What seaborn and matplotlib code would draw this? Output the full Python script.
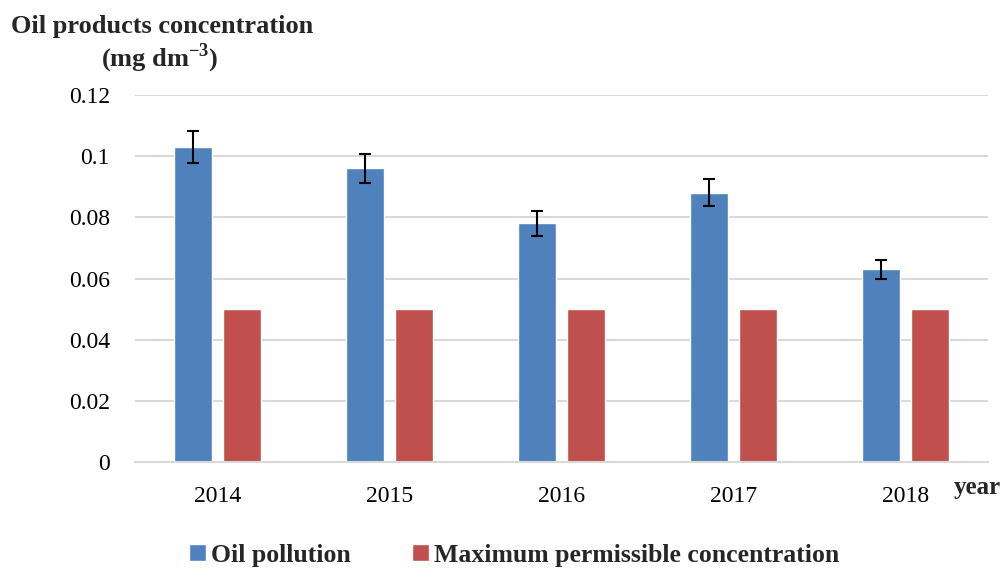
import pandas as pd
import seaborn as sns
import matplotlib.pyplot as plt

years = ['2014', '2015', '2016', '2017', '2018']
oil_pollution = [0.103, 0.096, 0.078, 0.088, 0.063]
oil_error = [0.0052, 0.0048, 0.0040, 0.0044, 0.0031]
max_permissible = [0.05, 0.05, 0.05, 0.05, 0.05]
series_names = ['Oil pollution', 'Maximum permissible concentration']
color_palette = ['#4F81BD', '#C0504D']

sns.set_theme(style='white')
plt.rcParams['font.family'] = ['Liberation Serif', 'DejaVu Serif']
plt.rcParams['mathtext.fontset'] = 'custom'
plt.rcParams['mathtext.rm'] = 'Liberation Serif'
plt.rcParams['mathtext.bf'] = 'Liberation Serif:bold'

df = pd.DataFrame({
    'year': years * 2,
    'value': oil_pollution + max_permissible,
    'series': [series_names[0]] * len(years) + [series_names[1]] * len(years),
})

fig = plt.figure(figsize=(10.06, 5.69), dpi=100)
ax = fig.add_axes([0.134, 0.188, 0.848, 0.645])

sns.barplot(data=df, x='year', y='value', hue='series', palette=color_palette,
            width=0.573, gap=0.225, errorbar=None, saturation=1, ax=ax)

# error bars on the oil pollution bars
oil_bars = ax.containers[0]
xs = [p.get_x() + p.get_width() / 2 for p in oil_bars]
ax.errorbar(xs, oil_pollution, yerr=oil_error, fmt='none', ecolor='black',
            elinewidth=1.5, capsize=4.5, capthick=1.5, zorder=5)

ax.set_ylim(0, 0.12)
ax.set_yticks([0, 0.02, 0.04, 0.06, 0.08, 0.1, 0.12])
ax.set_yticklabels(['0', '0.02', '0.04', '0.06', '0.08', '0.1', '0.12'])
ax.yaxis.grid(True, color='#d9d9d9', linewidth=1.5)
ax.set_axisbelow(True)
for side in ['top', 'right', 'left']:
    ax.spines[side].set_visible(False)
ax.spines['bottom'].set_color('#d9d9d9')
ax.spines['bottom'].set_linewidth(1.5)
ax.tick_params(axis='both', length=0, labelsize=17, colors='black')
ax.tick_params(axis='x', pad=17)
ax.tick_params(axis='y', pad=18)
ax.set_xlabel('')
ax.set_ylabel('')

fig.text(0.161, 0.953, 'Oil products concentration', ha='center', va='center',
         fontsize=19, fontweight='bold')
fig.text(0.159, 0.897, r'(mg dm$^{\mathbf{-3}}$)', ha='center', va='center',
         fontsize=19, fontweight='bold')
fig.text(0.971, 0.143, 'year', ha='center', va='center', fontsize=18, fontweight='bold')

handles, labels = ax.get_legend_handles_labels()
ax.legend(handles, labels, loc='center', bbox_to_anchor=(0.511, 0.024),
          bbox_transform=fig.transFigure, ncol=2, frameon=False,
          prop={'size': 18.5, 'weight': 'bold'}, handlelength=0.65, handleheight=0.65,
          handletextpad=0.2, columnspacing=2.4)

plt.savefig('out.png', dpi=100)
